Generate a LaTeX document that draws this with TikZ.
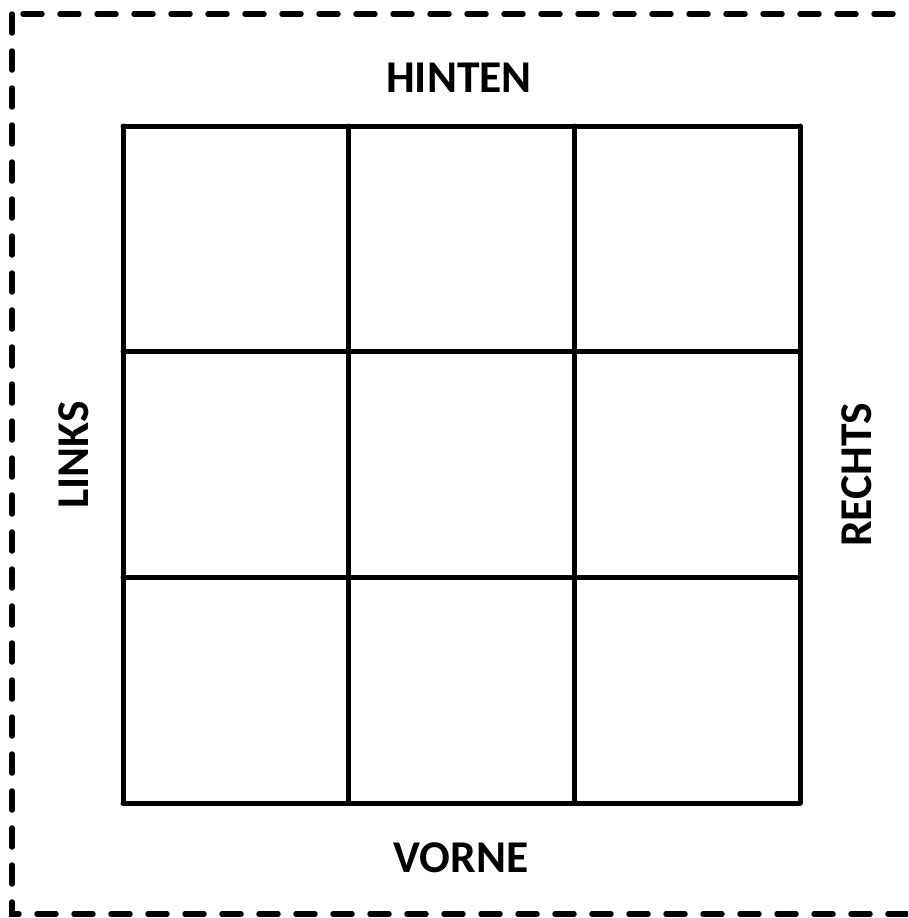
\documentclass[tikz,border=0pt]{standalone}
\usepackage{fontspec}
\setmainfont{Carlito}
\begin{document}
\begin{tikzpicture}[x=1pt, y=-1pt, font=\fontsize{45.5}{54}\selectfont\bfseries,
		label/.style={inner sep=0pt}]
		\useasboundingbox (0,0) rectangle (908,918);
		% gestrichelter Rahmen (rechts abgeschnitten)
		\begin{scope}
			\clip (0,0) rectangle (908,918);
			\draw[line width=5.5pt, line cap=round, dash pattern=on 19pt off 18pt] (12,14) rectangle (940,914);
		\end{scope}
		% 3x3 Raster
		\foreach \k in {0,1,2,3}{
			\draw[line width=5pt, line cap=round] ({123+225.7*\k},126) -- ({123+225.7*\k},803);
			\draw[line width=5pt, line cap=round] (123,{126+225.7*\k}) -- (800,{126+225.7*\k});
		}
		% Beschriftungen
		\node[label] (hinten) at (459,78) {HINTEN};
		\node[label] (vorne) at (461,858) {VORNE};
		\node[label, rotate=90] (links) at (74,455) {LINKS};
		\node[label, rotate=90] (rechts) at (857,475) {RECHTS};
	\end{tikzpicture}
\end{document}
